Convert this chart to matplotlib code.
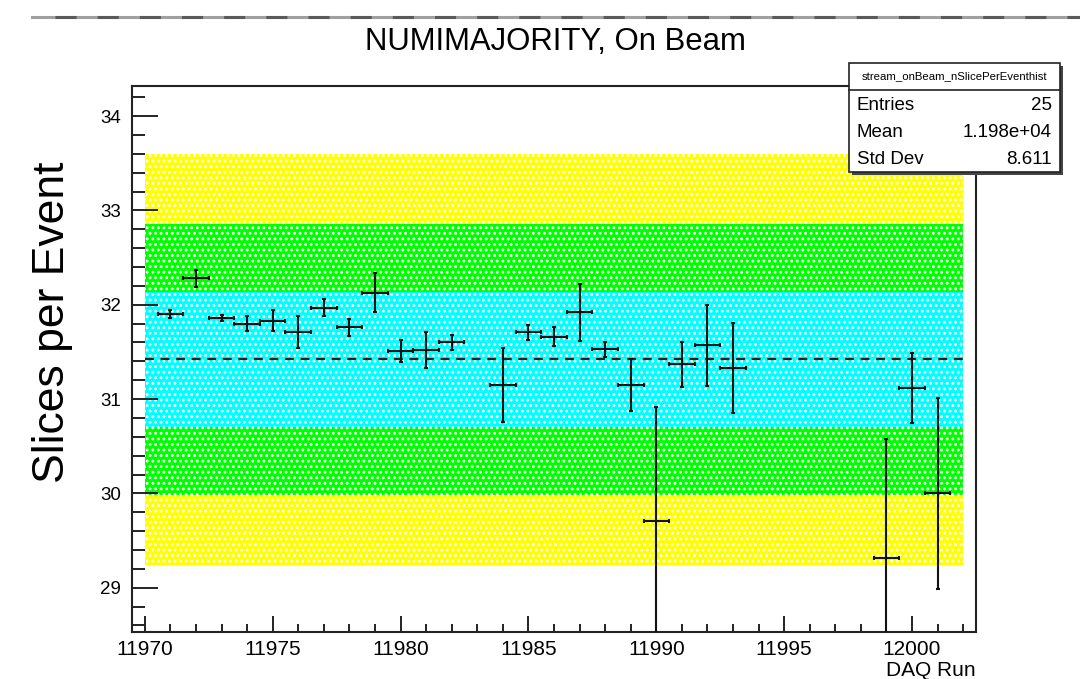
import matplotlib
matplotlib.use("Agg")
import matplotlib.pyplot as plt
from matplotlib.patches import Rectangle
from matplotlib.lines import Line2D
from matplotlib.ticker import MultipleLocator

plt.rcParams['font.family'] = ['Liberation Sans', 'DejaVu Sans']
plt.rcParams['hatch.linewidth'] = 1.3

# slices per event for each DAQ run (with statistical errors)
runs = [11971, 11972, 11973, 11974, 11975, 11976, 11977, 11978, 11979, 11980,
        11981, 11982, 11984, 11985, 11986, 11987, 11988, 11989, 11990, 11991,
        11992, 11993, 11999, 12000, 12001]
slices = [31.90, 32.28, 31.86, 31.80, 31.83, 31.71, 31.97, 31.76, 32.13, 31.51,
          31.52, 31.60, 31.15, 31.71, 31.66, 31.92, 31.53, 31.15, 29.71, 31.37,
          31.57, 31.33, 29.32, 31.12, 30.00]
errors = [0.04, 0.09, 0.03, 0.08, 0.11, 0.17, 0.09, 0.09, 0.21, 0.12,
          0.19, 0.08, 0.39, 0.08, 0.10, 0.30, 0.08, 0.28, 1.21, 0.24,
          0.43, 0.48, 1.26, 0.37, 1.01]

# mean and 1/2/3 sigma band limits
band_mean = 31.42
band_low = [29.24, 29.985, 30.705]
band_high = [33.60, 32.856, 32.136]
band_colors = ['#ffff00', '#00ff00', '#00ffff']
band_runs = [11970, 12002]

stats_name = "stream_onBeam_nSlicePerEventhist"
stats_rows = [("Entries", "25"), ("Mean", "1.198e+04"), ("Std Dev", "8.611")]

W, H = 1080, 679
fig = plt.figure(figsize=(W / 100, H / 100), dpi=100)


def fx(px):
    return px / W


def fy(py):
    return 1 - py / H


ax = fig.add_axes([fx(132), fy(632), fx(976) - fx(132), fy(86) - fy(632)])
ax.set_xlim(11969.5, 12002.5)
ax.set_ylim(28.53, 34.32)

for lo, hi, col in zip(band_low, band_high, band_colors):
    ax.fill_between(band_runs, lo, hi, facecolor=col, edgecolor='white',
                    hatch='...', linewidth=0, zorder=1)
ax.plot(band_runs, [band_mean, band_mean], color='#222222', lw=1.6,
        ls=(0, (4, 3)), zorder=2)

ax.errorbar(runs, slices, xerr=0.5, yerr=errors, fmt='none', ecolor='#111111',
            elinewidth=1.5, capsize=1.5, capthick=1.5, zorder=3)

ax.xaxis.set_major_locator(MultipleLocator(5))
ax.xaxis.set_minor_locator(MultipleLocator(1))
ax.yaxis.set_major_locator(MultipleLocator(1))
ax.yaxis.set_minor_locator(MultipleLocator(0.2))
ax.tick_params(axis='x', which='both', direction='in', top=False, labelsize=15,
               pad=6, width=1.4, color='#222222')
ax.tick_params(axis='x', which='major', length=11.5)
ax.tick_params(axis='x', which='minor', length=5.8)
ax.tick_params(axis='y', which='both', direction='in', right=False, labelsize=13.5,
               pad=8, width=1.4, color='#222222')
ax.tick_params(axis='y', which='major', length=18.7)
ax.tick_params(axis='y', which='minor', length=9.4)
for s in ax.spines.values():
    s.set_linewidth(1.5)
    s.set_color('#222222')

fig.text(fx(53), fy(322), "Slices per Event", rotation=90, fontsize=32,
         ha='center', va='center')
fig.text(fx(976), fy(671), "DAQ Run", fontsize=15, ha='right', va='center')
fig.text(fx(555), fy(42), "NUMIMAJORITY, On Beam", fontsize=22.4,
         ha='center', va='center')

# dashed separator line across the top of the canvas
fig.add_artist(Line2D([fx(32), 1], [fy(17), fy(17)], color='#a0a0a0', lw=2.2))
fig.add_artist(Line2D([fx(55), 1], [fy(17), fy(17)], color='#5a5a5a', lw=2.2,
                      ls=(0, (6.9, 6.9))))

# statistics box
bx0, bx1, by0, by1 = 849, 1060, 63, 172
fig.add_artist(Rectangle((fx(bx0) + 0.0025, fy(by1) - 0.004), fx(bx1 - bx0), fy(by0) - fy(by1),
                         transform=fig.transFigure, facecolor='#444444', edgecolor='none',
                         zorder=9))
fig.add_artist(Rectangle((fx(bx0), fy(by1)), fx(bx1 - bx0), fy(by0) - fy(by1),
                         transform=fig.transFigure, facecolor='white', edgecolor='#222222',
                         lw=1.2, zorder=10))
fig.add_artist(Line2D([fx(bx0), fx(bx1)], [fy(90), fy(90)], color='#222222', lw=1.2,
                      zorder=11))
fig.text(fx((bx0 + bx1) / 2), fy(76.5), stats_name, fontsize=8.2, ha='center',
         va='center', zorder=12)
for i, (lab, val) in enumerate(stats_rows):
    yy = fy(105 + 27.5 * i)
    fig.text(fx(bx0 + 8), yy, lab, fontsize=13.5, ha='left', va='center', zorder=12)
    fig.text(fx(bx1 - 8), yy, val, fontsize=13.5, ha='right', va='center', zorder=12)

fig.savefig("out.png", dpi=100)
